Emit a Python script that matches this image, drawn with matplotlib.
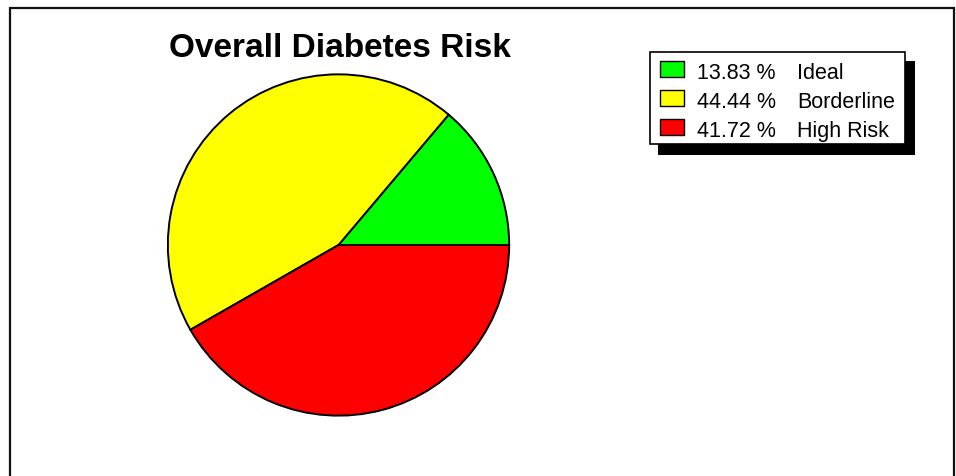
import matplotlib
matplotlib.use("Agg")
import matplotlib.pyplot as plt
from matplotlib.patches import Rectangle

plt.rcParams['font.family'] = ['Liberation Sans', 'DejaVu Sans']

title = "Overall Diabetes Risk"
labels = ["Ideal", "Borderline", "High Risk"]
values = [13.83, 44.44, 41.72]
colors = ["#00ff00", "#ffff00", "#ff0000"]

W, H = 956, 476
fig = plt.figure(figsize=(W / 100, H / 100), dpi=100)

# pie axes, placed in pixels (center ~338,245, radius ~172)
cx, cy, r = 338.5, 245, 171.5
ax = fig.add_axes([(cx - r) / W, (H - cy - r) / H, 2 * r / W, 2 * r / H])
ax.pie(values, colors=colors, startangle=0, counterclock=True,
       wedgeprops=dict(edgecolor="black", linewidth=1.4))
ax.set_xlim(-1.005, 1.005)
ax.set_ylim(-1.005, 1.005)

# overlay in pixel coords for frame, title and legend
ov = fig.add_axes([0, 0, 1, 1], zorder=-1)
ov.set_xlim(0, W)
ov.set_ylim(H, 0)
ov.axis("off")
ov.patch.set_alpha(0)
ov.plot([10, 10, 954, 954], [H + 5, 8, 8, H + 5], color="#111111", lw=1.6,
        solid_joinstyle="miter")

ov2 = fig.add_axes([0, 0, 1, 1], zorder=5)
ov2.set_xlim(0, W)
ov2.set_ylim(H, 0)
ov2.axis("off")
ov2.patch.set_alpha(0)

ov2.text(340, 57, title, ha="center", va="baseline", fontsize=24,
         fontweight="bold")

# legend with hard shadow
ov2.add_patch(Rectangle((658, 61), 257, 94, facecolor="black", edgecolor="none"))
ov2.add_patch(Rectangle((650, 52), 255, 92, facecolor="white",
                        edgecolor="black", linewidth=1.2))
for i, (lab, v, c) in enumerate(zip(labels, values, colors)):
    y = 69 + i * 29
    ov2.add_patch(Rectangle((660, y - 8), 24, 16, facecolor=c,
                            edgecolor="black", linewidth=1.0))
    ov2.text(697, y + 10, f"{v:.2f} %", ha="left", va="baseline", fontsize=15.5)
    ov2.text(797, y + 10, lab, ha="left", va="baseline", fontsize=15.5)

fig.savefig("out.png", dpi=100)
